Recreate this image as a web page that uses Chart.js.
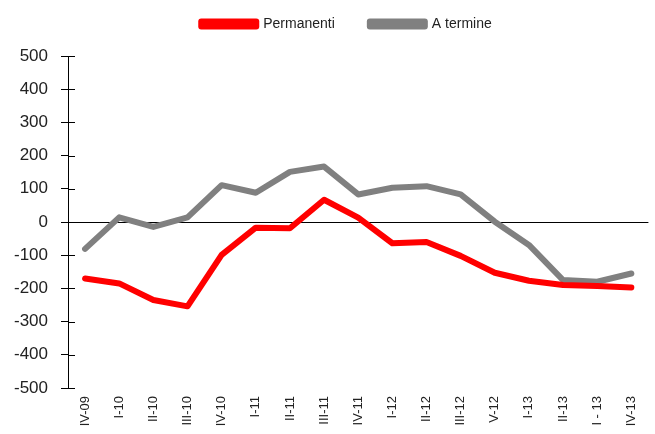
<!DOCTYPE html>
<html>
<head>
<meta charset="utf-8">
<script src="https://cdn.jsdelivr.net/npm/chart.js@4/dist/chart.umd.min.js"></script>
<style>
  html, body { margin: 0; padding: 0; background: #fff; }
  #wrap { width: 655px; height: 434px; }
</style>
</head>
<body>
<div id="wrap"><canvas id="chart" width="655" height="434"></canvas></div>
<script>
const quarters = ['IV-09', 'I-10', 'II-10', 'III-10', 'IV-10', 'I-11', 'II-11', 'III-11', 'IV-11',
    'I-12', 'II-12', 'III-12', 'V-12', 'I-13', 'II-13', 'I - 13', 'IV-13'];
const permanenti = [-170, -185, -235, -254, -99, -17, -19, 67, 13, -64, -60, -102, -153, -177, -190, -193, -197];
const aTermine = [-81, 14, -15, 14, 111, 88, 151, 167, 83, 103, 108, 83, 1, -69, -175, -180, -155];
const yTicks = [-500, -400, -300, -200, -100, 0, 100, 200, 300, 400, 500];

// ticks in the reference cross the axis, so draw the inner half too
const innerTicks = {
    id: 'innerTicks',
    beforeLayout(chart) {
        // fixed legend height so the plot starts where the reference does
        const lg = chart.legend;
        if (lg && !lg._fitPatched) {
            const fit = lg.fit;
            lg.fit = function () { fit.call(this); this.height = 74; };
            lg._fitPatched = true;
        }
    },
    afterLayout(chart) {
        // legend sits a little right of centre in the reference
        const lg = chart.legend;
        if (lg) {
            lg.left += 40;
            lg.width = lg.right - lg.left;
        }
    },
    afterDraw(chart) {
        const y = chart.scales.y;
        const ctx = chart.ctx;
        const x0 = chart.chartArea.left;
        ctx.save();
        ctx.strokeStyle = '#000';
        ctx.lineWidth = 1;
        yTicks.forEach(v => {
            const py = Math.round(y.getPixelForValue(v)) + 0.5;
            ctx.beginPath();
            ctx.moveTo(x0, py);
            ctx.lineTo(x0 + 7, py);
            ctx.stroke();
        });
        ctx.restore();
    }
};

const ctx = document.getElementById('chart').getContext('2d');
new Chart(ctx, {
    type: 'line',
    data: {
        labels: quarters,
        datasets: [{
            label: 'Permanenti',
            data: permanenti,
            borderColor: '#ff0000',
            backgroundColor: '#ff0000',
            borderWidth: 6,
            pointRadius: 0,
            tension: 0,
            borderJoinStyle: 'round',
            borderCapStyle: 'round'
        }, {
            label: 'A termine',
            data: aTermine,
            borderColor: '#808080',
            backgroundColor: '#808080',
            borderWidth: 6,
            pointRadius: 0,
            tension: 0,
            borderJoinStyle: 'round',
            borderCapStyle: 'round'
        }]
    },
    options: {
        responsive: false,
        animation: false,
        layout: { padding: { left: 0, right: 2, top: -18, bottom: 0 } },
        plugins: {
            legend: {
                position: 'top',
                labels: {
                    boxWidth: 55,
                    boxHeight: 5,
                    padding: 35,
                    color: '#222',
                    font: { family: 'Liberation Sans, Arial, sans-serif', size: 14 }
                }
            },
            tooltip: { enabled: false }
        },
        scales: {
            x: {
                offset: true,
                grid: { display: false, drawTicks: false },
                border: { display: false },
                ticks: {
                    minRotation: 90,
                    maxRotation: 90,
                    autoSkip: false,
                    padding: 8,
                    color: '#222',
                    font: { family: 'Liberation Sans, Arial, sans-serif', size: 13 }
                },
                afterFit(scale) { scale.height = 46; }
            },
            y: {
                min: -500,
                max: 500,
                afterBuildTicks(scale) { scale.ticks = yTicks.map(v => ({ value: v })); },
                grid: {
                    drawOnChartArea: true,
                    color: c => (c.tick && c.tick.value === 0) ? '#000' : 'rgba(0,0,0,0)',
                    tickColor: '#000',
                    tickLength: 7,
                    lineWidth: 1
                },
                border: { display: true, color: '#000', width: 1 },
                ticks: {
                    padding: 13,
                    color: '#222',
                    font: { family: 'Liberation Sans, Arial, sans-serif', size: 17 }
                },
                afterFit(scale) { scale.width = 68; }
            }
        }
    },
    plugins: [innerTicks]
});
</script>
</body>
</html>
